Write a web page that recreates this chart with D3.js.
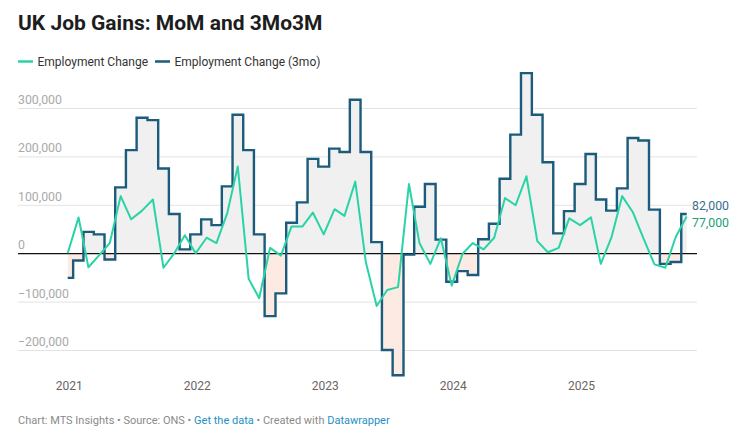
<!DOCTYPE html>
<html lang="en">
<head>
<meta charset="UTF-8">
<title>UK Job Gains</title>
<script src="https://d3js.org/d3.v7.min.js"></script>
<style>
  body { margin: 0; background: #fff; font-family: Roboto, "Noto Sans", sans-serif; }
</style>
</head>
<body>
<div id="chart"></div>
<script>
// months (Jan 2021 .. Nov 2025)
const months = [
  "2021-01","2021-02","2021-03","2021-04","2021-05","2021-06","2021-07","2021-08","2021-09","2021-10","2021-11","2021-12",
  "2022-01","2022-02","2022-03","2022-04","2022-05","2022-06","2022-07","2022-08","2022-09","2022-10","2022-11","2022-12",
  "2023-01","2023-02","2023-03","2023-04","2023-05","2023-06","2023-07","2023-08","2023-09","2023-10","2023-11","2023-12",
  "2024-01","2024-02","2024-03","2024-04","2024-05","2024-06","2024-07","2024-08","2024-09","2024-10","2024-11","2024-12",
  "2025-01","2025-02","2025-03","2025-04","2025-05","2025-06","2025-07","2025-08","2025-09","2025-10","2025-11"
];

// Employment Change (month on month)
const mom = [
  1000, 75000, -28000, -3000, 22000, 119000, 71000, 89000, 112000, -29000, 1000, 38000,
  1000, 33000, 22000, 84000, 180000, -52000, -92000, 12000, -4000, 56000, 56000, 85000,
  40000, 92000, 78000, 149000, -17000, -108000, -75000, -69000, 144000, 22000, -21000, 32000,
  -66000, 0, 22000, 9000, 33000, 115000, 100000, 160000, 26000, 3000, 12000, 73000,
  59000, 75000, -21000, 35000, 119000, 85000, 31000, -22000, -29000, 35000, 77000
];

// Employment Change (3mo on 3mo)
const threeMo = [
  -50000, -14000, 45000, 40000, -12000, 137000, 214000, 281000, 276000, 176000, 82000, 9000,
  40000, 71000, 59000, 139000, 287000, 214000, 40000, -129000, -82000, 64000, 106000, 196000,
  180000, 217000, 210000, 318000, 210000, 24000, -199000, -251000, -2000, 97000, 144000, 29000,
  -58000, -36000, -44000, 30000, 62000, 155000, 246000, 373000, 287000, 189000, 42000, 88000,
  144000, 206000, 112000, 89000, 135000, 239000, 234000, 91000, -21000, -17000, 82000
];

const yTicks = [-200000, -100000, 0, 100000, 200000, 300000];
const xTickLabels = ["2021", "2022", "2023", "2024", "2025"];

const W = 740, H = 437;
const parse = d3.timeParse("%Y-%m");
const data = months.map((m, i) => ({ date: parse(m), mom: mom[i], tri: threeMo[i] }));

const svg = d3.select("#chart").append("svg")
  .attr("width", W).attr("height", H)
  .style("font-family", "Roboto, 'Noto Sans', sans-serif");

const x = d3.scaleTime()
  .domain(d3.extent(data, d => d.date))
  .range([67.7, 686.7]);

const y = d3.scaleLinear()
  .domain([-200000, 300000])
  .range([350.5, 108.5]);

const gridLeft = 18, gridRight = 697;

// title
svg.append("text")
  .attr("x", 18).attr("y", 30)
  .attr("font-size", 21).attr("font-weight", 700).attr("fill", "#1d1d1d")
  .text("UK Job Gains: MoM and 3Mo3M");

// legend
const legend = [
  { label: "Employment Change", color: "#2ad3a6", x: 18 },
  { label: "Employment Change (3mo)", color: "#1b5b7b", x: 155 }
];
legend.forEach(l => {
  svg.append("line")
    .attr("x1", l.x).attr("x2", l.x + 15)
    .attr("y1", 61.5).attr("y2", 61.5)
    .attr("stroke", l.color).attr("stroke-width", 2.5);
  svg.append("text")
    .attr("x", l.x + 19.5).attr("y", 65.5)
    .attr("font-size", 12).attr("fill", "#333")
    .text(l.label);
});

// grid + y labels
const fmt = d3.format(",");
const yAxis = svg.append("g");
yTicks.forEach(t => {
  if (t !== 0) {
    yAxis.append("line")
      .attr("x1", gridLeft).attr("x2", gridRight)
      .attr("y1", y(t)).attr("y2", y(t))
      .attr("stroke", "#e3e3e3").attr("stroke-width", 1);
  }
  yAxis.append("text")
    .attr("x", gridLeft).attr("y", y(t) - 4.5)
    .attr("font-size", 12.3).attr("fill", "#aaaaaa")
    .text(t < 0 ? "\u2212" + fmt(-t) : fmt(t));
});

// fills between step line and zero
const area = d3.area()
  .curve(d3.curveStep)
  .x(d => x(d.date))
  .y0(y(0))
  .y1(d => y(d.tri));

const defs = svg.append("defs");
defs.append("clipPath").attr("id", "above")
  .append("rect").attr("x", 0).attr("y", 0).attr("width", W).attr("height", y(0));
defs.append("clipPath").attr("id", "below")
  .append("rect").attr("x", 0).attr("y", y(0)).attr("width", W).attr("height", H - y(0));

svg.append("path").datum(data)
  .attr("d", area).attr("fill", "#f0f0f0")
  .attr("clip-path", "url(#above)");
svg.append("path").datum(data)
  .attr("d", area).attr("fill", "#fdebe3")
  .attr("clip-path", "url(#below)");

// zero line
svg.append("line")
  .attr("x1", gridLeft).attr("x2", gridRight)
  .attr("y1", y(0)).attr("y2", y(0))
  .attr("stroke", "#111").attr("stroke-width", 1.2);

// lines
const stepLine = d3.line().curve(d3.curveStep)
  .x(d => x(d.date)).y(d => y(d.tri));
const momLine = d3.line()
  .x(d => x(d.date)).y(d => y(d.mom));

svg.append("path").datum(data)
  .attr("d", stepLine).attr("fill", "none")
  .attr("stroke", "#1b5b7b").attr("stroke-width", 2.4)
  .attr("stroke-linejoin", "miter");

svg.append("path").datum(data)
  .attr("d", momLine).attr("fill", "none")
  .attr("stroke", "#2ad3a6").attr("stroke-width", 2)
  .attr("stroke-linejoin", "round");

// end labels
const last = data[data.length - 1];
svg.append("text")
  .attr("x", 692).attr("y", 210)
  .attr("font-size", 12.3).attr("fill", "#3b6e8c")
  .text(fmt(last.tri));
svg.append("text")
  .attr("x", 692).attr("y", 227)
  .attr("font-size", 12.3).attr("fill", "#1d9e78")
  .text(fmt(last.mom));

// x axis labels
xTickLabels.forEach(lbl => {
  svg.append("text")
    .attr("x", x(parse(lbl + "-01")) + 1.5).attr("y", 390)
    .attr("text-anchor", "middle")
    .attr("font-size", 12).attr("fill", "#666")
    .text(lbl);
});

// footer
const foot = svg.append("text")
  .attr("x", 18).attr("y", 424)
  .attr("font-size", 11).attr("fill", "#8a8a8a");
foot.append("tspan").text("Chart: MTS Insights \u2022 Source: ONS \u2022 ");
foot.append("tspan").attr("fill", "#1f8fc4").text("Get the data");
foot.append("tspan").text(" \u2022 Created with ");
foot.append("tspan").attr("fill", "#1f8fc4").text("Datawrapper");
</script>
</body>
</html>
